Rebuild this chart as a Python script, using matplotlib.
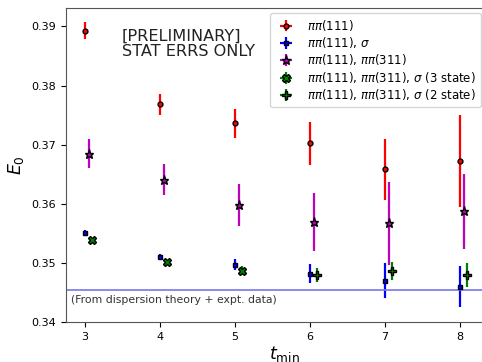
import matplotlib
matplotlib.use("Agg")
import matplotlib.pyplot as plt
import numpy as np

tmin = [3, 4, 5, 6, 7, 8]

e_111 = [0.3893, 0.3768, 0.3736, 0.3702, 0.3658, 0.3672]
err_111 = [0.0015, 0.0018, 0.0024, 0.0036, 0.0052, 0.0078]

e_sig = [0.3551, 0.3510, 0.3497, 0.3482, 0.3470, 0.3460]
err_sig = [0.0004, 0.0005, 0.0009, 0.0016, 0.0030, 0.0035]

e_311 = [0.3685, 0.3641, 0.3598, 0.3569, 0.3567, 0.3587]
err_311 = [0.0024, 0.0026, 0.0036, 0.0049, 0.0070, 0.0064]

tmin_3s = [3, 4, 5]
e_3s = [0.3539, 0.3502, 0.3487]
err_3s = [0.0003, 0.0003, 0.0007]

tmin_2s = [6, 7, 8]
e_2s = [0.3479, 0.3486, 0.3479]
err_2s = [0.0012, 0.0015, 0.0020]

e_disp = 0.3454

W, H = 482, 362
fig = plt.figure(figsize=(W / 100, H / 100), dpi=100)
ax = fig.add_axes([66 / W, 40 / H, 436 / W, 314.5 / H])

t = np.array(tmin)
kw = dict(elinewidth=1.6, mew=1.0)
ax.errorbar(t, e_111, yerr=err_111, xerr=0, fmt='o', color='red', mec='black', ms=3.5,
            label=r'$\pi\pi(111)$', **kw)
ax.errorbar(t, e_sig, yerr=err_sig, xerr=0, fmt='s', color='blue', mec='black', ms=3.5,
            label=r'$\pi\pi(111)$, $\sigma$', **kw)
ax.errorbar(t + 0.05, e_311, yerr=err_311, xerr=0, fmt='*', color='m', mec='black', ms=6.5,
            label=r'$\pi\pi(111)$, $\pi\pi(311)$', **kw)
ax.errorbar(np.array(tmin_3s) + 0.1, e_3s, yerr=err_3s, xerr=0, fmt='X', color='green', mec='black', ms=6,
            label=r'$\pi\pi(111)$, $\pi\pi(311)$, $\sigma$ (3 state)', **kw)
ax.errorbar(np.array(tmin_2s) + 0.1, e_2s, yerr=err_2s, xerr=0, fmt='P', color='green', mec='black', ms=6,
            label=r'$\pi\pi(111)$, $\pi\pi(311)$, $\sigma$ (2 state)', **kw)

ax.axhline(e_disp, color='#7777ee', lw=1.2)
ax.text(2.82, 0.3437, '(From dispersion theory + expt. data)', fontsize=7.8, color='#333333', va='center')
ax.text(3.49, 0.3896, '[PRELIMINARY]\nSTAT ERRS ONLY', fontsize=11.6, color='#222222',
        va='top', linespacing=1.0)

ax.set_xlim(2.747, 8.56)
ax.set_ylim(0.34, 0.3932)
ax.set_xticks(tmin)
ax.set_yticks([0.34, 0.35, 0.36, 0.37, 0.38, 0.39])
ax.set_yticklabels(['0.34', '0.35', '0.36', '0.37', '0.38', '0.39'])
ax.tick_params(labelsize=8)
ax.set_xlabel(r'$t_{\rm min}$', fontsize=12.5, labelpad=2)
ax.set_ylabel(r'$E_0$', fontsize=12.5, labelpad=4)
for s in ax.spines.values():
    s.set_color('#555555')
ax.legend(loc='upper right', bbox_to_anchor=(480.5 / W, (H - 13) / H), bbox_transform=fig.transFigure,
          borderaxespad=0, fontsize=8.5, handlelength=1.9, borderpad=0.4, labelspacing=0.2,
          handletextpad=0.8)

fig.savefig('out.png', dpi=100)
